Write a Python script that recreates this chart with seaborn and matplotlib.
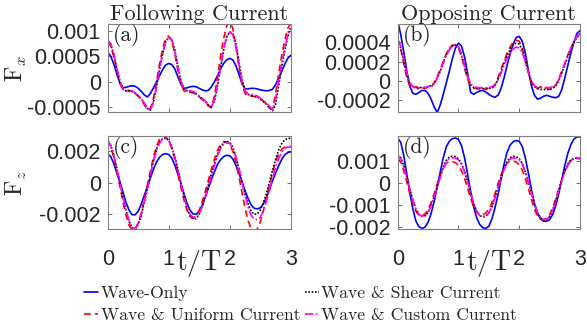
import numpy as np
import seaborn as sns
import matplotlib.pyplot as plt

# time axis, t/T
t = np.arange(61) * 0.05

# Fx, following current (units 1e-4)
fx_fol_wave = [5.8, 5.0, 3.5, 1.5, -0.3, -1.2, -1.1, -0.9, -0.8, -0.9, -1.3, -1.9, -2.6, -3.0, -2.3, -1.2,
               0.0, 1.2, 2.4, 3.3, 3.6, 3.4, 2.5, 1.0, -0.5, -1.3, -1.2, -1.0, -0.9, -1.0, -1.3, -1.6,
               -1.8, -1.7, -1.0, 0.0, 1.2, 2.5, 3.6, 4.3, 4.6, 4.3, 3.2, 1.5, -0.3, -1.4, -1.4, -1.3,
               -1.3, -1.4, -1.6, -1.7, -1.8, -1.7, -1.5, -0.6, 0.6, 2.0, 3.4, 4.6, 5.2]
fx_fol_uniform = [8.0, 7.0, 5.0, 2.2, -0.3, -1.6, -1.8, -1.7, -1.9, -2.3, -2.8, -3.5, -4.5, -5.5, -5.3, -3.2,
                  0.0, 3.5, 6.5, 8.5, 9.0, 8.0, 5.5, 2.2, -0.5, -1.8, -2.2, -2.1, -2.2, -2.5, -3.0, -3.5,
                  -4.0, -4.8, -5.0, -2.8, 1.0, 5.0, 8.5, 11.0, 11.8, 10.5, 7.0, 3.0, -0.5, -2.3, -2.8, -2.8,
                  -2.9, -3.0, -3.4, -3.8, -4.4, -5.2, -5.3, -2.5, 1.5, 5.0, 8.0, 10.5, 11.5]
fx_fol_shear = [8.0, 7.3, 5.3, 2.6, 0.0, -1.5, -1.8, -1.8, -1.9, -2.3, -2.8, -3.4, -4.3, -5.3, -5.6, -4.0,
                -1.0, 2.5, 5.5, 7.9, 8.7, 8.3, 6.2, 3.0, 0.2, -1.4, -1.8, -1.9, -2.0, -2.4, -2.9, -3.4,
                -3.9, -4.6, -5.1, -3.8, -0.8, 2.8, 6.2, 8.8, 9.8, 9.5, 7.5, 4.0, 0.5, -1.7, -2.5, -2.7,
                -2.8, -3.0, -3.4, -3.9, -4.4, -5.1, -5.7, -4.5, -1.0, 2.8, 6.0, 8.8, 10.8]
fx_fol_custom = [8.2, 7.5, 5.5, 2.8, 0.2, -1.5, -1.8, -1.7, -1.8, -2.2, -2.7, -3.3, -4.2, -5.2, -5.6, -4.0,
                 -1.0, 2.5, 5.5, 8.0, 8.8, 8.3, 6.0, 2.8, 0.0, -1.4, -1.8, -1.8, -1.9, -2.3, -2.8, -3.3,
                 -3.8, -4.5, -5.0, -3.5, -0.5, 3.0, 6.5, 9.0, 9.8, 9.3, 7.0, 3.5, 0.2, -1.8, -2.4, -2.5,
                 -2.6, -2.8, -3.2, -3.6, -4.1, -4.8, -5.5, -3.5, 0.0, 3.5, 6.5, 9.0, 10.5]

# Fx, opposing current (units 1e-4)
fx_opp_wave = [6.2, 4.8, 3.0, 1.0, -0.6, -1.3, -1.4, -1.2, -1.0, -1.0, -1.3, -1.9, -2.7, -3.3, -2.5, -1.4,
               -0.2, 1.0, 2.3, 3.4, 3.9, 3.6, 2.5, 0.8, -1.2, -1.4, -1.2, -1.05, -1.0, -1.15, -1.4, -1.6,
               -1.7, -1.5, -0.8, 0.3, 1.6, 2.8, 3.8, 4.5, 4.6, 4.1, 2.9, 1.1, -0.5, -1.5, -1.9, -1.8,
               -1.6, -1.5, -1.6, -1.7, -1.75, -1.6, -0.9, 0.3, 1.6, 2.9, 4.0, 4.9, 5.2]
fx_opp_uniform = [4.4, 3.3, 1.8, 0.3, -0.5, -0.8, -0.6, -0.9, -0.7, -0.8, -0.6, -0.7, -0.2, 0.4, 1.2, 2.0,
                  2.8, 3.4, 3.7, 3.7, 3.4, 2.5, 1.3, 0.2, -0.6, -0.8, -0.7, -1.0, -0.8, -0.9, -0.7, -0.8,
                  -0.4, 0.3, 1.2, 2.0, 2.9, 3.5, 4.0, 4.2, 4.1, 3.4, 2.2, 0.9, -0.2, -0.6, -0.8, -0.6,
                  -0.9, -0.7, -0.9, -0.6, -0.5, 0.2, 1.0, 1.8, 2.7, 3.4, 4.0, 4.6, 4.9]
fx_opp_shear = [4.2, 3.4, 2.0, 0.6, -0.3, -0.6, -0.7, -0.7, -0.7, -0.7, -0.6, -0.5, -0.3, 0.3, 1.0, 1.9,
                2.7, 3.3, 3.6, 3.7, 3.5, 2.7, 1.5, 0.4, -0.4, -0.7, -0.8, -0.8, -0.8, -0.8, -0.8, -0.7,
                -0.5, 0.1, 0.9, 1.8, 2.6, 3.2, 3.7, 3.9, 3.8, 3.2, 2.1, 0.9, -0.1, -0.6, -0.8, -0.9,
                -0.9, -0.9, -0.9, -0.8, -0.5, 0.0, 0.8, 1.7, 2.5, 3.3, 4.0, 4.5, 4.8]
fx_opp_custom = [4.3, 3.6, 2.2, 0.8, -0.2, -0.6, -0.7, -0.7, -0.7, -0.7, -0.6, -0.5, -0.3, 0.3, 1.0, 1.8,
                 2.6, 3.2, 3.6, 3.7, 3.5, 2.8, 1.6, 0.5, -0.3, -0.6, -0.7, -0.7, -0.7, -0.7, -0.7, -0.6,
                 -0.4, 0.1, 0.8, 1.6, 2.3, 2.9, 3.3, 3.5, 3.4, 2.9, 2.0, 0.9, 0.0, -0.5, -0.7, -0.7,
                 -0.7, -0.7, -0.7, -0.6, -0.4, 0.1, 0.9, 1.8, 2.6, 3.4, 4.1, 4.6, 4.9]

# Fz, following current (units 1e-3)
fz_fol_wave = [1.80, 1.65, 1.20, 0.60, 0.05, -0.60, -1.25, -1.75, -2.03, -2.03, -1.80, -1.35, -0.80, -0.25,
               0.30, 0.85, 1.30, 1.60, 1.78, 1.83, 1.78, 1.55, 1.10, 0.55, -0.05, -0.70, -1.30, -1.75,
               -1.98, -2.00, -1.80, -1.40, -0.90, -0.35, 0.20, 0.70, 1.15, 1.45, 1.65, 1.73, 1.70, 1.50,
               1.10, 0.60, 0.05, -0.50, -1.00, -1.40, -1.62, -1.66, -1.60, -1.35, -0.95, -0.45, 0.10,
               0.60, 1.05, 1.45, 1.75, 1.90, 1.95]
fz_fol_uniform = [2.70, 2.30, 1.60, 0.70, -0.25, -1.20, -2.05, -2.70, -3.00, -2.95, -2.55, -1.90, -1.05, -0.15,
                  0.75, 1.60, 2.30, 2.75, 2.95, 2.90, 2.65, 2.15, 1.45, 0.60, -0.30, -1.10, -1.75, -2.15,
                  -2.25, -2.10, -1.75, -1.20, -0.55, 0.15, 0.85, 1.50, 2.05, 2.40, 2.58, 2.58, 2.40, 2.00,
                  1.30, 0.40, -0.60, -1.60, -2.40, -2.90, -3.05, -2.95, -2.50, -1.80, -1.00, -0.20, 0.60,
                  1.30, 1.80, 2.10, 2.25, 2.30, 2.30]
fz_fol_shear = [2.60, 2.35, 1.75, 0.90, 0.00, -0.90, -1.75, -2.45, -2.85, -2.92, -2.65, -2.05, -1.25, -0.40,
                0.50, 1.40, 2.10, 2.55, 2.78, 2.82, 2.68, 2.28, 1.65, 0.85, 0.00, -0.85, -1.60, -2.10,
                -2.30, -2.28, -2.00, -1.50, -0.85, -0.15, 0.55, 1.20, 1.80, 2.25, 2.52, 2.62, 2.55, 2.25,
                1.65, 0.90, 0.10, -0.70, -1.35, -1.80, -2.00, -1.98, -1.75, -1.30, -0.70, 0.00, 0.75,
                1.45, 2.05, 2.45, 2.70, 2.80, 2.80]
fz_fol_custom = [2.65, 2.35, 1.70, 0.85, 0.00, -0.90, -1.75, -2.45, -2.85, -2.90, -2.60, -2.00, -1.20, -0.40,
                 0.50, 1.35, 2.05, 2.50, 2.75, 2.78, 2.65, 2.25, 1.60, 0.80, -0.05, -0.85, -1.55, -2.00,
                 -2.20, -2.20, -1.95, -1.50, -0.90, -0.25, 0.45, 1.10, 1.70, 2.15, 2.42, 2.52, 2.48, 2.20,
                 1.65, 0.90, 0.05, -0.80, -1.55, -2.05, -2.30, -2.35, -2.20, -1.80, -1.20, -0.50, 0.25,
                 0.95, 1.50, 1.90, 2.15, 2.25, 2.25]

# Fz, opposing current (units 1e-3)
fz_opp_wave = [2.05, 1.85, 1.25, 0.40, -0.45, -1.20, -1.75, -2.00, -2.08, -2.02, -1.80, -1.40, -0.85, -0.20,
               0.50, 1.15, 1.65, 1.90, 2.02, 2.05, 1.98, 1.70, 1.15, 0.40, -0.40, -1.10, -1.60, -1.90,
               -2.05, -2.08, -1.98, -1.65, -1.15, -0.55, 0.15, 0.85, 1.40, 1.72, 1.88, 1.93, 1.90, 1.65,
               1.15, 0.45, -0.30, -0.95, -1.40, -1.65, -1.75, -1.75, -1.68, -1.45, -1.05, -0.50, 0.15,
               0.80, 1.35, 1.75, 2.00, 2.10, 2.10]
fz_opp_uniform = [1.12, 0.95, 0.55, 0.05, -0.50, -0.95, -1.30, -1.48, -1.50, -1.42, -1.25, -0.90, -0.50, -0.05,
                  0.35, 0.70, 0.90, 0.98, 0.97, 0.92, 0.80, 0.55, 0.20, -0.25, -0.70, -1.10, -1.35, -1.45,
                  -1.45, -1.38, -1.20, -0.90, -0.50, -0.05, 0.35, 0.68, 0.90, 1.00, 1.00, 0.95, 0.82, 0.58,
                  0.20, -0.25, -0.75, -1.20, -1.50, -1.65, -1.68, -1.62, -1.45, -1.15, -0.75, -0.30, 0.15,
                  0.55, 0.85, 1.02, 1.10, 1.12, 1.10]
fz_opp_shear = [1.30, 1.15, 0.80, 0.28, -0.28, -0.80, -1.20, -1.45, -1.52, -1.50, -1.35, -1.05, -0.62, -0.15,
                0.30, 0.72, 1.02, 1.18, 1.22, 1.20, 1.10, 0.88, 0.52, 0.05, -0.45, -0.95, -1.30, -1.50,
                -1.55, -1.52, -1.38, -1.10, -0.68, -0.20, 0.25, 0.68, 0.98, 1.15, 1.21, 1.20, 1.10, 0.88,
                0.52, 0.05, -0.45, -0.95, -1.35, -1.60, -1.70, -1.68, -1.55, -1.25, -0.82, -0.32, 0.15,
                0.55, 0.85, 1.05, 1.12, 1.13, 1.12]
fz_opp_custom = [1.25, 1.10, 0.75, 0.25, -0.30, -0.80, -1.20, -1.45, -1.52, -1.50, -1.35, -1.05, -0.65, -0.20,
                 0.25, 0.65, 0.95, 1.10, 1.15, 1.13, 1.05, 0.85, 0.50, 0.05, -0.45, -0.95, -1.30, -1.50,
                 -1.55, -1.52, -1.38, -1.10, -0.70, -0.25, 0.20, 0.60, 0.90, 1.08, 1.14, 1.12, 1.05, 0.85,
                 0.50, 0.05, -0.45, -0.95, -1.35, -1.60, -1.68, -1.68, -1.55, -1.25, -0.85, -0.35, 0.10,
                 0.50, 0.80, 1.00, 1.10, 1.12, 1.12]

labels = ['Wave-Only', 'Wave & Uniform Current', 'Wave & Shear Current', 'Wave & Custom Current']
colors = ['#0000ff', '#ff0000', '#000000', '#ff00ff']
styles = ['-', (0, (4, 2.5)), (0, (1, 1)), (0, (5, 1.5, 1, 1.5))]

sns.set_style('ticks')
plt.rcParams['axes.unicode_minus'] = False
plt.rcParams['mathtext.fontset'] = 'cm'

fig = plt.figure(figsize=(5.87, 3.31), dpi=100)
ax_a = fig.add_axes([0.1835, 0.6625, 0.3118, 0.2640])
ax_b = fig.add_axes([0.6775, 0.6625, 0.3106, 0.2640])
ax_c = fig.add_axes([0.1835, 0.3073, 0.3118, 0.2819])
ax_d = fig.add_axes([0.6775, 0.3073, 0.3106, 0.2819])

panels = [
    (ax_a, [fx_fol_wave, fx_fol_uniform, fx_fol_shear, fx_fol_custom], 1e-4, '(a)',
     (-0.00059, 0.00113), [-0.0005, 0, 0.0005, 0.001], ['-0.0005', '0', '0.0005', '0.001']),
    (ax_b, [fx_opp_wave, fx_opp_uniform, fx_opp_shear, fx_opp_custom], 1e-4, '(b)',
     (-0.00032, 0.000585), [-0.0002, 0, 0.0002, 0.0004], ['-0.0002', '0', '0.0002', '0.0004']),
    (ax_c, [fz_fol_wave, fz_fol_uniform, fz_fol_shear, fz_fol_custom], 1e-3, '(c)',
     (-0.00295, 0.00295), [-0.002, 0, 0.002], ['-0.002', '0', '0.002']),
    (ax_d, [fz_opp_wave, fz_opp_uniform, fz_opp_shear, fz_opp_custom], 1e-3, '(d)',
     (-0.00212, 0.00214), [-0.002, -0.001, 0, 0.001], ['-0.002', '-0.001', '0', '0.001']),
]

for ax, series, unit, tag, ylim, yt, ytl in panels:
    for vals, lab, c, ls in zip(series, labels, colors, styles):
        sns.lineplot(x=t, y=np.array(vals) * unit, ax=ax, color=c, linestyle=ls,
                     linewidth=1.2, label=lab, legend=False)
    ax.set_xlim(0, 3)
    ax.set_ylim(*ylim)
    ax.set_yticks(yt)
    ax.set_yticklabels(ytl, fontfamily='Liberation Sans', fontsize=15.5, color='#262626')
    ax.set_xticks([0, 1, 2, 3])
    ax.tick_params(direction='in', length=3, width=0.6, color='#555555', top=True, right=True)
    ax.tick_params(axis='y', pad=5)
    ax.tick_params(axis='x', pad=14)
    for sp in ax.spines.values():
        sp.set_visible(True)
        sp.set_color('#808080')
        sp.set_linewidth(0.8)
    ax.text(0.03, 1.0, tag, transform=ax.transAxes, ha='left', va='top',
            fontfamily='cmr10', fontsize=15.5)
    ax.set_xlabel('')
    ax.set_ylabel('')

for ax in (ax_a, ax_b):
    ax.set_xticklabels([])
for ax in (ax_c, ax_d):
    ax.set_xticklabels(['0', '1', '2', '3'], fontfamily='Liberation Sans', fontsize=15.5, color='#262626')
    ax.set_xlabel(r'$\mathrm{t/T}$', fontsize=20, labelpad=-16)

ax_a.set_title('Following Current', fontfamily='cmr10', fontsize=16, pad=2)
ax_b.set_title('Opposing Current', fontfamily='cmr10', fontsize=16, pad=2)
ax_a.set_ylabel(r'$\mathrm{F}_x$', fontsize=17)
ax_c.set_ylabel(r'$\mathrm{F}_z$', fontsize=17)
ax_a.yaxis.set_label_coords(-0.43, 0.5)
ax_c.yaxis.set_label_coords(-0.43, 0.5)

handles, labs = ax_c.get_legend_handles_labels()
fig.legend(handles, labs, ncol=2, loc='upper left', bbox_to_anchor=(84 / 587, 1 - 286 / 331),
           frameon=False, borderpad=0, borderaxespad=0, handlelength=0.8, handletextpad=0.15,
           columnspacing=0.25, labelspacing=0.38, prop={'family': 'cmr10', 'size': 12.7})

fig.savefig('out.png', dpi=100)
